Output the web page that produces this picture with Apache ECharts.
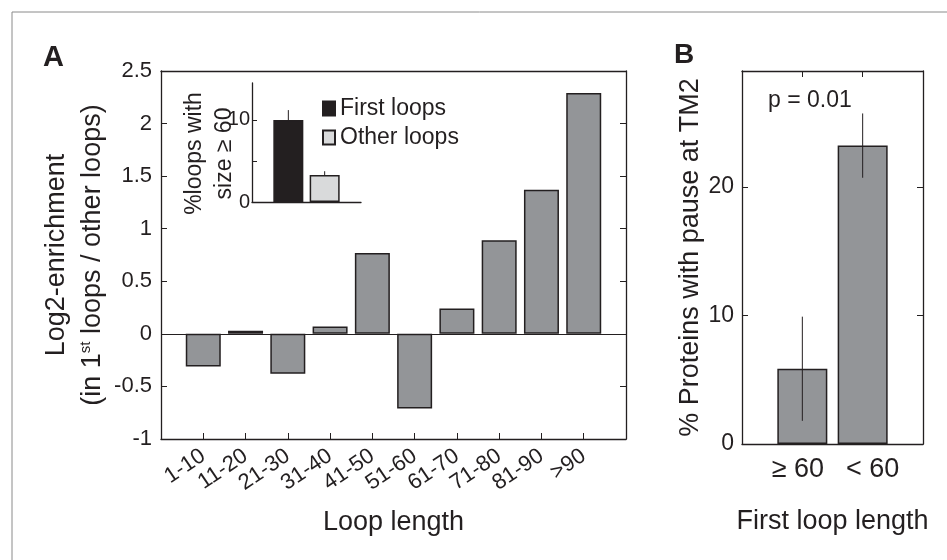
<!DOCTYPE html>
<html>
<head>
<meta charset="utf-8">
<script src="https://cdn.jsdelivr.net/npm/echarts@6/dist/echarts.min.js"></script>
<style>
html,body{margin:0;padding:0;background:#fff;}
#chart{width:947px;height:560px;}
</style>
</head>
<body>
<div id="chart"></div>
<script>
// Panel A: log2-enrichment by loop length
var loopCategories = ['1-10','11-20','21-30','31-40','41-50','51-60','61-70','71-80','81-90','>90'];
var enrichment = [-0.31, 0.03, -0.38, 0.07, 0.77, -0.71, 0.24, 0.89, 1.37, 2.29];
var yTicksA = [-1, -0.5, 0, 0.5, 1, 1.5, 2, 2.5];

// Inset: % loops with size >= 60
var insetNames = ['First loops', 'Other loops'];
var insetValues = [10.0, 3.3];
var insetErrors = [1.2, 0.45];

// Panel B: % proteins with pause at TM2
var bCategories = ['\u2265 60', '< 60'];
var bValues = [5.85, 23.2];
var bErrors = [4.05, 2.5];

var FONT = 'Liberation Sans, Arial, Helvetica, sans-serif';
var INK = '#231f20';
var GRAY = '#939598';

function errorSeries(xIdx, yIdx, vals, errs, z) {
  return {
    type: 'custom', xAxisIndex: xIdx, yAxisIndex: yIdx, z: z, silent: true,
    data: vals.map(function (v, i) { return [i + 1, v - errs[i], v + errs[i]]; }),
    renderItem: function (params, api) {
      var lo = api.coord([api.value(0), api.value(1)]);
      var hi = api.coord([api.value(0), api.value(2)]);
      return { type: 'line', shape: { x1: lo[0], y1: lo[1], x2: hi[0], y2: hi[1] },
               style: { stroke: INK, lineWidth: 1 } };
    }
  };
}

var chart = echarts.init(document.getElementById('chart'), null, { renderer: 'canvas' });
function axLine() { return { show: true, onZero: false, lineStyle: { color: INK, width: 1.3 } }; }
function inTick(len) { return { show: true, inside: true, length: len, lineStyle: { color: INK } }; }

var option = {
  animation: false,
  backgroundColor: '#fff',
  textStyle: { fontFamily: FONT, color: INK },
  grid: [
    { left: 161, top: 71, width: 465, height: 368 },
    { left: 252, top: 83, width: 109, height: 119 },
    { left: 742, top: 71, width: 181, height: 373 }
  ],
  legend: {
    orient: 'vertical', left: 317, top: 92, itemWidth: 12, itemHeight: 14, itemGap: 6,
    icon: 'rect', data: insetNames,
    textStyle: { fontFamily: FONT, fontSize: 23, color: INK }
  },
  xAxis: [
    { // A bottom
      type: 'value', gridIndex: 0, min: 0, max: 11, interval: 1,
      axisLine: axLine(), splitLine: { show: false }, axisTick: inTick(6),
      axisLabel: { rotate: 34, margin: 15, fontSize: 22, color: INK, fontFamily: FONT,
        formatter: function (v) { return loopCategories[v - 1] || ''; } },
      name: 'Loop length', nameLocation: 'middle', nameGap: 70, nameMoveOverlap: false,
      nameTextStyle: { fontSize: 27, color: INK, fontFamily: FONT }
    },
    { // A top (box)
      type: 'value', gridIndex: 0, min: 0, max: 11, position: 'top',
      axisLine: axLine(), axisTick: { show: false }, axisLabel: { show: false }, splitLine: { show: false }
    },
    { // inset x
      type: 'value', gridIndex: 1, min: 0, max: 3, interval: 1,
      axisLine: axLine(), axisTick: { show: false }, axisLabel: { show: false }, splitLine: { show: false }
    },
    { // B bottom
      type: 'value', gridIndex: 2, min: 0, max: 3, interval: 1,
      axisLine: axLine(), splitLine: { show: false }, axisTick: inTick(6),
      axisLabel: { margin: 12, fontSize: 27, color: INK, fontFamily: FONT,
        formatter: function (v) {
          if (v === 1) return '{a|' + bCategories[0] + '}';
          if (v === 2) return '{b|' + bCategories[1] + '}';
          return '';
        },
        rich: {
          a: { fontSize: 27, fontFamily: FONT, color: INK, padding: [0, 9, 0, 0] },
          b: { fontSize: 27, fontFamily: FONT, color: INK, padding: [0, 0, 0, 20] }
        } },
      name: 'First loop length', nameLocation: 'middle', nameGap: 64, nameMoveOverlap: false,
      nameTextStyle: { fontSize: 27, color: INK, fontFamily: FONT }
    },
    { // B top
      type: 'value', gridIndex: 2, min: 0, max: 3, interval: 1, position: 'top',
      axisLine: axLine(), splitLine: { show: false }, axisTick: inTick(6),
      axisLabel: { show: false }
    }
  ],
  yAxis: [
    { // A left
      type: 'value', gridIndex: 0, min: -1, max: 2.5, interval: 0.5,
      axisLine: axLine(), splitLine: { show: false }, axisTick: inTick(6),
      axisLabel: { margin: 9, fontSize: 22, color: INK, fontFamily: FONT },
      name: 'Log2-enrichment\n(in 1{sup|st} loops / other loops)',
      nameLocation: 'middle', nameGap: 50,
      nameTextStyle: { fontSize: 27, lineHeight: 36, color: INK, fontFamily: FONT,
        rich: { sup: { fontSize: 15, fontFamily: FONT, color: INK, padding: [0, 0, 12, 0] } } }
    },
    { // A right
      type: 'value', gridIndex: 0, min: -1, max: 2.5, interval: 0.5, position: 'right',
      axisLine: axLine(), splitLine: { show: false }, axisTick: inTick(6),
      axisLabel: { show: false }
    },
    { // inset y
      type: 'value', gridIndex: 1, min: 0, max: 14.5, interval: 5,
      axisLine: axLine(), splitLine: { show: false }, axisTick: inTick(5),
      axisLabel: { margin: 2, fontSize: 20, color: INK, fontFamily: FONT, showMaxLabel: false,
        formatter: function (v) { return (v === 0 || v === 10) ? String(v) : ''; } },
      name: '%loops with\nsize \u2265 60', nameLocation: 'middle', nameGap: 12, nameMoveOverlap: false,
      nameTextStyle: { fontSize: 23, lineHeight: 30, color: INK, fontFamily: FONT, padding: [0, 22, 0, 0] }
    },
    { // B left
      type: 'value', gridIndex: 2, min: 0, max: 29, interval: 10,
      axisLine: axLine(), splitLine: { show: false }, axisTick: inTick(6),
      axisLabel: { margin: 8, fontSize: 23, color: INK, fontFamily: FONT, showMaxLabel: false,
        formatter: function (v) { return v % 10 === 0 ? String(v) : ''; } },
      name: '% Proteins with pause at TM2', nameLocation: 'middle', nameGap: 38,
      nameTextStyle: { fontSize: 27, color: INK, fontFamily: FONT }
    },
    { // B right
      type: 'value', gridIndex: 2, min: 0, max: 29, interval: 10, position: 'right',
      axisLine: axLine(), splitLine: { show: false }, axisTick: inTick(6),
      axisLabel: { show: false }
    }
  ],
  series: [
    {
      type: 'bar', name: 'enrichment', xAxisIndex: 0, yAxisIndex: 0, barWidth: 35,
      data: enrichment.map(function (v, i) { return [i + 1, v]; }),
      itemStyle: { color: GRAY, borderColor: INK, borderWidth: 1.5 },
      markLine: { silent: true, symbol: 'none', label: { show: false },
        lineStyle: { color: INK, width: 1, type: 'solid' }, data: [{ yAxis: 0 }] },
      z: 3
    },
    errorSeries(2, 2, insetValues, insetErrors, 2),
    {
      type: 'bar', name: insetNames[0], xAxisIndex: 2, yAxisIndex: 2, barWidth: 30, barGap: '-100%',
      data: [[1, insetValues[0]]],
      itemStyle: { color: INK, borderColor: INK, borderWidth: 1.5 }, z: 3
    },
    {
      type: 'bar', name: insetNames[1], xAxisIndex: 2, yAxisIndex: 2, barWidth: 30, barGap: '-100%',
      data: [[2, insetValues[1]]],
      itemStyle: { color: '#d9dadb', borderColor: INK, borderWidth: 1.5 }, z: 3
    },
    {
      type: 'bar', name: 'pause', xAxisIndex: 3, yAxisIndex: 3, barWidth: 50,
      data: bValues.map(function (v, i) { return [i + 1, v]; }),
      itemStyle: { color: GRAY, borderColor: INK, borderWidth: 1.5 }, z: 2
    },
    errorSeries(3, 3, bValues, bErrors, 4)
  ],
  graphic: [
    { type: 'line', shape: { x1: 12, y1: 12, x2: 947, y2: 12 }, style: { stroke: '#8a8a8a', lineWidth: 1 } },
    { type: 'line', shape: { x1: 12, y1: 12, x2: 12, y2: 560 }, style: { stroke: '#8a8a8a', lineWidth: 1 } },
    { type: 'text', left: 43, top: 43, style: { text: 'A', font: 'bold 29px ' + FONT, fill: INK } },
    { type: 'text', left: 674, top: 41, style: { text: 'B', font: 'bold 28px ' + FONT, fill: INK } },
    { type: 'text', left: 768, top: 89, style: { text: 'p = 0.01', font: '23px ' + FONT, fill: INK } }
  ]
};
chart.setOption(option);
</script>
</body>
</html>
